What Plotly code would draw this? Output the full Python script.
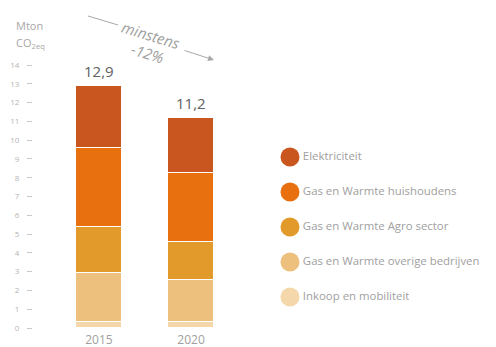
import plotly.graph_objects as go

years = ["2015", "2020"]
series_names = ["Inkoop en mobiliteit", "Gas en Warmte overige bedrijven",
                "Gas en Warmte Agro sector", "Gas en Warmte huishoudens", "Elektriciteit"]
inkoop = [0.3, 0.3]
overige = [2.65, 2.25]
agro = [2.45, 2.05]
huishoudens = [4.2, 3.65]
elektriciteit = [3.3, 2.95]
totals = [12.9, 11.2]
y_ticks = list(range(0, 15))

values = [inkoop, overige, agro, huishoudens, elektriciteit]
colors = ["#F4D7AA", "#EDC07E", "#E29A2B", "#E8700F", "#C9561F"]

# page body has an 8px margin; figure is sized to fit the window
OFF = 8
WIN_W, WIN_H = 496, 347
W, H = WIN_W - OFF, WIN_H - OFF
PL, PT, PB = 33, 65, 328          # plot area in window pixels
ML, MT, MB, MR = PL - OFF, PT - OFF, WIN_H - PB, 0
PW = W - ML - MR
PH = PB - PT

def px(x):
    return (x - PL) / PW

def py(y):
    return (PB - y) / PH

fig = go.Figure()
xidx = [0, 1]
for name, vals, col in zip(series_names, values, colors):
    fig.add_trace(go.Bar(
        x=xidx, y=vals, name=name, width=0.5,
        marker=dict(color=col, line=dict(color="white", width=1.5)),
        showlegend=False, hoverinfo="skip"))

# legend drawn as a scatter on a second pair of axes
leg_y = list(range(len(series_names)))
fig.add_trace(go.Scatter(
    x=[0] * len(series_names), y=leg_y, mode="markers+text",
    marker=dict(size=19, color=colors),
    text=series_names, textposition="middle right",
    textfont=dict(size=11.4, color="#a0a0a0", family="Open Sans"),
    xaxis="x2", yaxis="y2", showlegend=False, hoverinfo="skip", cliponaxis=False))

annotations = []
for i, t in enumerate(totals):
    annotations.append(dict(
        x=xidx[i], y=t, xref="x", yref="y", text=f"{t:.1f}".replace(".", ","),
        showarrow=False, yanchor="bottom", yshift=3,
        font=dict(size=15, color="#606060", family="Open Sans")))

grey = "#a8a8a8"
annotations.append(dict(x=px(14), y=py(25), xref="paper", yref="paper",
                        text="Mton", showarrow=False, xanchor="left", yanchor="middle",
                        font=dict(size=11, color=grey, family="Open Sans")))
annotations.append(dict(x=px(14), y=py(43), xref="paper", yref="paper",
                        text="CO<sub>2eq</sub>", showarrow=False, xanchor="left", yanchor="middle",
                        font=dict(size=11, color=grey, family="Open Sans")))
annotations.append(dict(x=px(151), y=py(35), xref="paper", yref="paper",
                        text="<i>minstens</i>", showarrow=False, textangle=17,
                        xanchor="center", yanchor="middle",
                        font=dict(size=15, color="#a0a0a0", family="Open Sans")))
annotations.append(dict(x=px(147), y=py(53), xref="paper", yref="paper",
                        text="<i>-12%</i>", showarrow=False, textangle=17,
                        xanchor="center", yanchor="middle",
                        font=dict(size=15, color="#a0a0a0", family="Open Sans")))
annotations.append(dict(x=px(214), y=py(60), xref="paper", yref="paper",
                        ax=-31, ay=-10, text="", showarrow=True,
                        arrowhead=2, arrowsize=1.2, arrowwidth=1, arrowcolor=grey))

shapes = [dict(type="line", xref="paper", yref="paper",
               x0=px(88), y0=py(16), x1=px(118), y1=py(25),
               line=dict(color=grey, width=1))]

fig.update_layout(
    width=W, height=H,
    margin=dict(l=ML, r=MR, t=MT, b=MB, autoexpand=False),
    paper_bgcolor="white", plot_bgcolor="white",
    barmode="stack", bargap=0,
    font=dict(family="Open Sans"),
    xaxis=dict(domain=[0, px(250)], range=[-0.717, 1.641],
               tickvals=xidx, ticktext=years, showgrid=False, zeroline=False,
               showline=False, ticks="", ticklabelstandoff=3,
               tickfont=dict(size=12, color="#a0a0a0")),
    yaxis=dict(range=[0, 14], tickvals=y_ticks, showgrid=False, zeroline=False,
               showline=False, ticks="outside", ticklen=5, tickcolor="#c8c8c8",
               tickwidth=1, ticklabelstandoff=6,
               tickfont=dict(size=8, color="#b4b4b4")),
    xaxis2=dict(domain=[px(260), 1], range=[-1, 6.87], visible=False),
    yaxis2=dict(domain=[0, 1], range=[-0.886, 6.629], visible=False, anchor="x2"),
    annotations=annotations, shapes=shapes,
)

fig.write_html("out.html")
